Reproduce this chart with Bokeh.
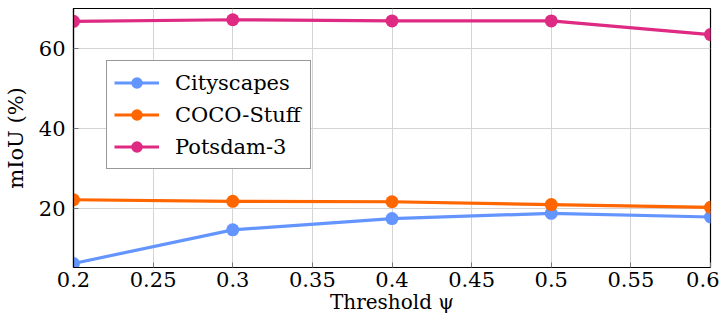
from bokeh.plotting import figure
from bokeh.models import Range1d, FixedTicker, Legend, LegendItem
from bokeh.embed import file_html
from bokeh.resources import INLINE

thresholds = [0.2, 0.3, 0.4, 0.5, 0.6]
cityscapes = [6.4, 14.8, 17.6, 18.9, 18.0]
coco_stuff = [22.3, 21.9, 21.8, 21.1, 20.4]
potsdam3 = [66.8, 67.2, 66.9, 66.9, 63.5]
series_names = ["Cityscapes", "COCO-Stuff", "Potsdam-3"]
colors = ["#6495FF", "#FF6600", "#DE2A82"]
x_ticks = [0.2, 0.25, 0.3, 0.35, 0.4, 0.45, 0.5, 0.55, 0.6]
x_tick_labels = {0.2: "0.2", 0.25: "0.25", 0.3: "0.3", 0.35: "0.35", 0.4: "0.4",
                 0.45: "0.45", 0.5: "0.5", 0.55: "0.55", 0.6: "0.6"}
y_ticks = [20, 40, 60]
x_title = "Threshold ψ"
y_title = "mIoU (%)"

FONT = "DejaVu Serif"
FS = "21px"
Y0, Y1 = 5.4, 70.0

p = figure(width=719, height=316, output_backend="svg", toolbar_location=None,
           x_range=Range1d(0.2, 0.6), y_range=Range1d(Y0, Y1),
           min_border_left=73, min_border_right=9, min_border_top=8, min_border_bottom=48)

p.outline_line_color = "black"
p.outline_line_width = 1.2
p.outline_line_alpha = 1.0

for ax in (p.xaxis[0], p.yaxis[0]):
    ax.axis_line_color = "black"
    ax.axis_line_width = 1.2
    ax.major_tick_out = 0
    ax.major_tick_in = 5
    ax.major_tick_line_color = "#777777"
    ax.minor_tick_line_color = None
    ax.major_label_text_font = FONT
    ax.major_label_text_font_size = FS
    ax.major_label_text_color = "black"
    ax.axis_label_text_font = FONT
    ax.axis_label_text_font_size = FS
    ax.axis_label_text_font_style = "normal"
    ax.axis_label_text_color = "black"

p.xaxis.ticker = FixedTicker(ticks=x_ticks)
p.xaxis.major_label_overrides = x_tick_labels
p.xaxis.major_label_standoff = 4
p.xaxis.axis_label = x_title
p.xaxis.axis_label_text_font_size = "20px"
p.xaxis.axis_label_standoff = 0

p.yaxis.ticker = FixedTicker(ticks=y_ticks)
p.yaxis.major_label_standoff = 8
p.yaxis.axis_label = y_title
p.yaxis.axis_label_standoff = 8

p.xgrid.ticker = FixedTicker(ticks=x_ticks)
p.ygrid.ticker = FixedTicker(ticks=y_ticks)
p.xgrid.grid_line_color = "#d4d4d4"
p.ygrid.grid_line_color = "#d4d4d4"
p.xgrid.grid_line_width = 1
p.ygrid.grid_line_width = 1

items = []
for name, vals, col in zip(series_names, [cityscapes, coco_stuff, potsdam3], colors):
    r1 = p.line(thresholds, vals, line_color=col, line_width=3.2)
    r2 = p.scatter(thresholds, vals, size=13, fill_color=col, line_color=col, line_width=0)
    items.append(LegendItem(label=name, renderers=[r1, r2]))

legend = Legend(items=items, location=(33, 98))
legend.label_text_font = FONT
legend.label_text_font_size = FS
legend.label_text_color = "black"
legend.border_line_color = "#333333"
legend.border_line_width = 1.2
legend.background_fill_alpha = 1.0
legend.glyph_width = 45
legend.glyph_height = 29
legend.label_height = 29
legend.label_width = 128
legend.spacing = 3
legend.padding = 7
legend.margin = 0
legend.label_standoff = 16
p.add_layout(legend, "center")

open("out.html", "w").write(file_html(p, INLINE))
